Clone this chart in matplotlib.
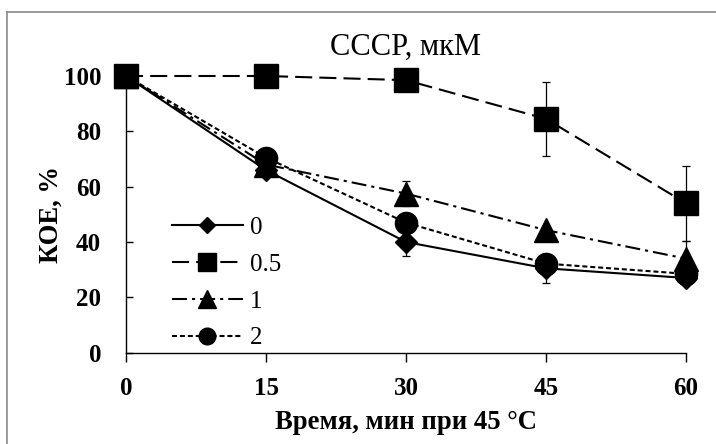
import numpy as np
from matplotlib import pyplot as plt
from matplotlib.lines import Line2D

plt.rcParams['font.family'] = ['Liberation Serif', 'DejaVu Serif']

# time at 45 C, min
time_min = [0, 15, 30, 45, 60]
# CFU, % for each CCCP concentration (uM)
koe_0 = [100, 66, 40, 30.5, 27]
koe_05 = [100, 100, 98.5, 84.5, 54]
koe_1 = [100, 68, 57.5, 44.3, 34]
koe_2 = [100, 70.5, 47, 32.2, 28.5]
# error bars (0 = not shown)
err_0 = [0, 0, 5, 5.2, 0]
err_05 = [0, 0, 0, 13.4, 13.5]
err_1 = [0, 0, 4.6, 0, 6.5]
err_2 = [0, 0, 0, 0, 0]
labels = ['0', '0.5', '1', '2']
x_ticks = [0, 15, 30, 45, 60]
y_ticks = [0, 20, 40, 60, 80, 100]

FS = 18
W, H = 716, 444

fig = plt.figure(figsize=(W / 100, H / 100), dpi=100)
ax = fig.add_axes([126 / W, 1 - 352.7 / H, 560 / W, (352.7 - 76) / H])

styles = [
    dict(ls='-', marker='D', ms=11.5),
    dict(ls=(0, (8.2, 3.4)), marker='s', ms=17),
    dict(ls=(0, (7.2, 2.4, 1.5, 2.4)), marker='^', ms=17),
    dict(ls=(0, (2.4, 1.4)), marker='o', ms=16),
]
series = [koe_0, koe_05, koe_1, koe_2]
errors = [err_0, err_05, err_1, err_2]

handles = []
t = np.array(time_min)
for vals, err, st in zip(series, errors, styles):
    vals = np.array(vals)
    err = np.array(err)
    m = err > 0
    if m.any():
        ax.errorbar(t[m], vals[m], yerr=err[m], fmt='none', ecolor='black',
                    elinewidth=0.9, capsize=3, capthick=0.9, zorder=2, clip_on=False)
    ln, = ax.plot(t, vals, color='black', lw=1.5, ls=st['ls'], marker=st['marker'],
                  ms=st['ms'], mfc='black', mec='black', zorder=3, clip_on=False)
    handles.append(ln)

ax.set_xlim(0, 60)
ax.set_ylim(0, 100)
ax.set_xticks(x_ticks)
ax.set_yticks(y_ticks)
for s in ['top', 'right']:
    ax.spines[s].set_visible(False)
for s in ['left', 'bottom']:
    ax.spines[s].set_linewidth(1.0)
ax.tick_params(axis='x', direction='out', length=6.5, width=1.0, pad=11)
ax.tick_params(axis='y', direction='in', length=5, width=1.0, pad=18)
for lab in ax.get_xticklabels() + ax.get_yticklabels():
    lab.set_fontsize(FS)
    lab.set_fontweight('bold')

ax.set_xlabel('Время, мин при 45 °C', fontsize=19.2, fontweight='bold', labelpad=7)
ax.set_ylabel('КОЕ, %', fontsize=19.2, fontweight='bold', labelpad=0)
ax.text(30, 107.6, 'CCCP, мкМ', fontsize=22, ha='center', va='baseline')

ax.legend(handles, labels, loc='upper left', bbox_to_anchor=(0.0816, 0.492),
          frameon=False, borderaxespad=0, borderpad=0, markerscale=0.75,
          handlelength=2.84, handletextpad=0.3, labelspacing=0.57,
          prop={'size': FS})

# outer chart frame (only top and left edges visible in the crop)
fig.add_artist(Line2D([7 / W, 7 / W], [0, 1 - 12 / H], color='#8a8a8a', lw=1.2,
                      transform=fig.transFigure))
fig.add_artist(Line2D([7 / W, 1], [1 - 12 / H, 1 - 12 / H], color='#8a8a8a', lw=1.2,
                      transform=fig.transFigure))

fig.savefig('out.png', dpi=100)
